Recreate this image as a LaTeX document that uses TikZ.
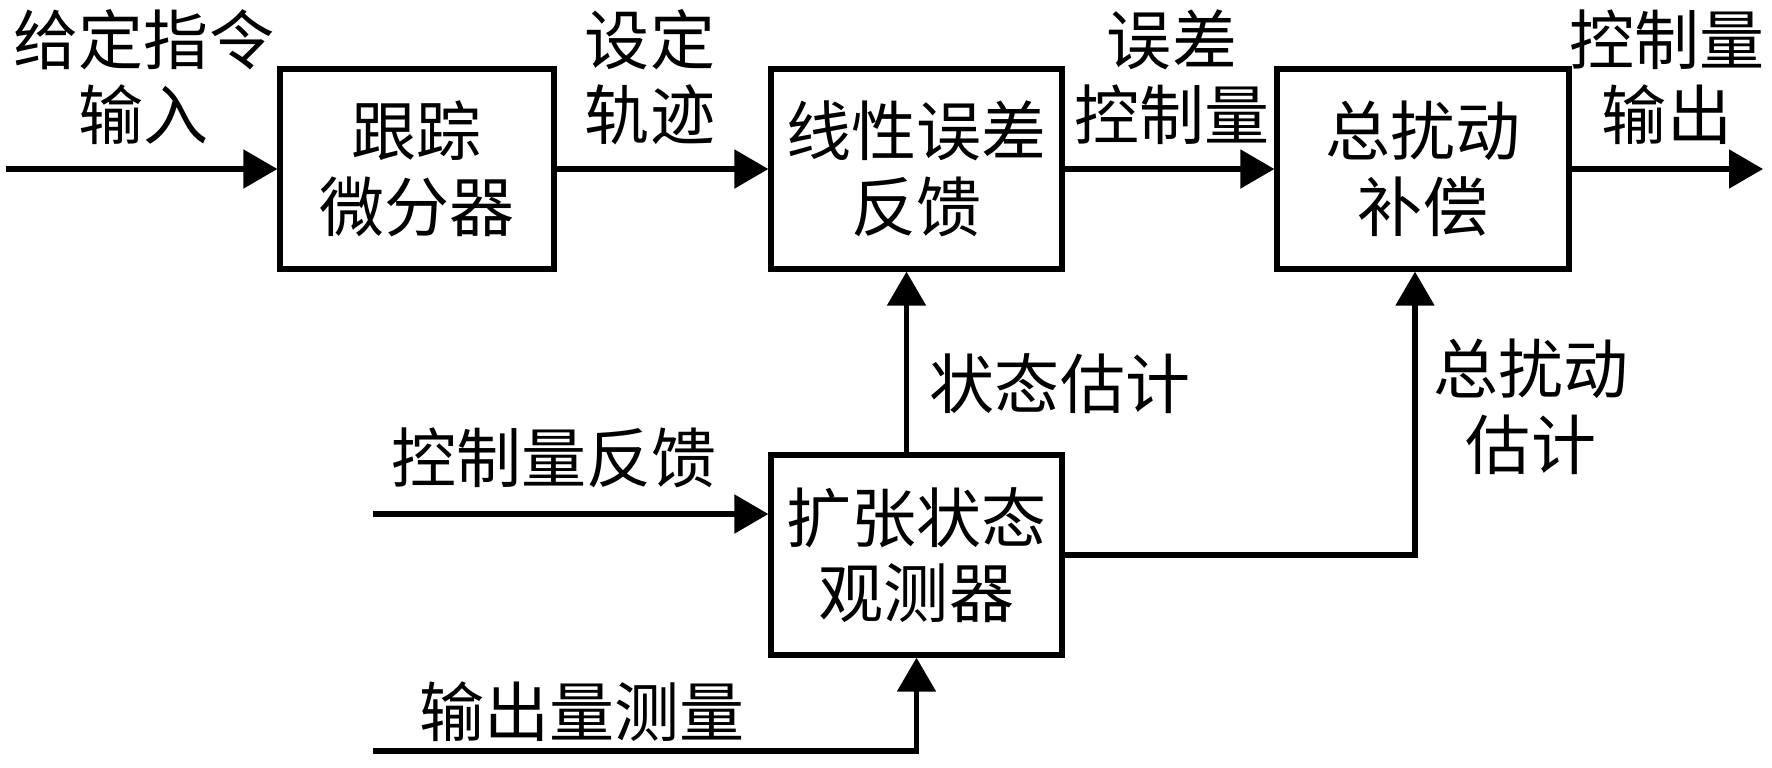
\documentclass[tikz,border=0pt]{standalone}
\usepackage{fontspec}
\setmainfont{Noto Sans CJK SC}
\usetikzlibrary{arrows.meta}
\tikzstyle{block}=[rectangle,draw=black,line width=1.5pt,minimum height=2cm,inner sep=2pt,align=center]
\tikzstyle{signal}=[align=center,inner sep=0pt]

\begin{document}
\begin{tikzpicture}[>={Triangle[length=3.4mm,width=3.8mm]}, line width=1.5pt, font=\fontsize{18.5}{21.5}\selectfont]
    \useasboundingbox (0,0) rectangle (17.72,-7.67);

    % blocks
    \node[block,minimum width=2.74cm](td) at (4.17,-1.69) {跟踪\\微分器};
    \node[block,minimum width=2.91cm](lsef) at (9.165,-1.69) {线性误差\\反馈};
    \node[block,minimum width=2.92cm](comp) at (14.23,-1.69) {总扰动\\补偿};
    \node[block,minimum width=2.91cm](eso) at (9.165,-5.55) {扩张状态\\观测器};

    % free ends
    \coordinate (in) at (0.06,-1.69);
    \coordinate (out) at (17.63,-1.69);
    \coordinate (ufb) at (3.73,-5.14);
    \coordinate (ymeas) at (3.73,-7.51);

    % connectors
    \draw[->] (in) -- (td.west);
    \draw[->] (td.east) -- (lsef.west);
    \draw[->] (lsef.east) -- (comp.west);
    \draw[->] (comp.east) -- (out);
    \draw[->] ([xshift=-1mm]eso.north) -- ([xshift=-1mm]lsef.south);
    \draw[->] (eso.east) -| ([xshift=-0.8mm]comp.south);
    \draw[->] (ufb) -- (ufb -| eso.west);
    \draw[->] (ymeas) -| (eso.south);

    % labels
    \node[signal](lin) at (1.44,-0.77) {给定指令\\输入};
    \node[signal](ltraj) at (6.50,-0.77) {设定\\轨迹};
    \node[signal](lerr) at (11.72,-0.77) {误差\\控制量};
    \node[signal](lout) at (16.67,-0.77) {控制量\\输出};
    \node[signal](lstate) at (10.60,-3.84) {状态估计};
    \node[signal](ldist) at (15.31,-4.07) {总扰动\\估计};
    \node[signal](lufb) at (5.54,-4.58) {控制量反馈};
    \node[signal](lymeas) at (5.82,-7.12) {输出量测量};
\end{tikzpicture}
\end{document}
